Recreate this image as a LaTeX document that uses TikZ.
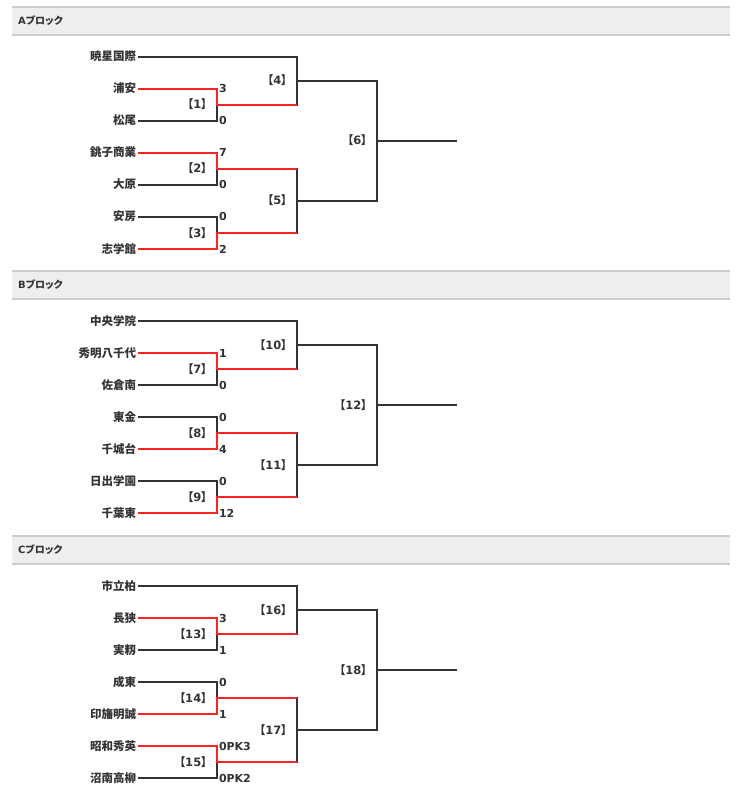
\documentclass[tikz,border=0pt]{standalone}
\usepackage{fontspec}
\setmainfont{DejaVu Sans}
\newfontfamily\cjk[RawFeature=+palt]{Noto Sans CJK JP}
\usetikzlibrary{calc}
\definecolor{txt}{HTML}{333333}
\definecolor{lose}{HTML}{333333}
\definecolor{win}{HTML}{FF2222}
\definecolor{hdrfill}{HTML}{EEEEEE}
\definecolor{hdrline}{HTML}{CCCCCC}
\tikzset{
  team/.style={anchor=east, inner sep=2pt, outer sep=0pt, text=txt,
    font=\cjk\bfseries\fontsize{11.5}{13}\selectfont, text height=9pt, text depth=1pt},
  score/.style={anchor=west, inner sep=0pt, outer sep=0pt, text=txt,
    font=\bfseries\fontsize{11}{13}\selectfont, text height=8pt, text depth=0pt},
  mlabel/.style={anchor=east, inner sep=0pt, outer sep=0pt, text=txt,
    font=\cjk\bfseries\fontsize{11.5}{13}\selectfont, text height=9pt, text depth=1pt},
  hdr/.style={anchor=west, inner sep=0pt, text=txt,
    font=\bfseries\fontsize{10}{12}\selectfont},
  loseline/.style={draw=lose, line width=2.2pt},
  winline/.style={draw=win, line width=2.8pt},
}
\newcommand\blockframe[3]{%
  \fill[hdrfill] (12,#2) rectangle (730,{#2+28});
  \draw[hdrline, line width=1.2pt] (12,#2) -- (730,#2) (12,{#2+28}) -- (730,{#2+28});
  \node[hdr] (#1hdr) at (18,{#2+14}) {#3{\cjk ブロック}};
  \foreach \i in {0,...,6} {\coordinate (#1r\i) at (138,{#2+50+32*\i});}
  \coordinate (#1sx) at (219,#2);
  \coordinate (#1m1) at (217,{#2+98});
  \coordinate (#1m2) at (217,{#2+162});
  \coordinate (#1m3) at (217,{#2+226});
  \coordinate (#1m4) at (297,{#2+74});
  \coordinate (#1m5) at (297,{#2+194});
  \coordinate (#1m6) at (377,{#2+134});
  \coordinate (#1end) at (457,{#2+134});
}
\newcommand\teams[8]{%
  \node[team] (#10) at (#1r0) {#2};
  \node[team] (#11) at (#1r1) {#3};
  \node[team] (#12) at (#1r2) {#4};
  \node[team] (#13) at (#1r3) {#5};
  \node[team] (#14) at (#1r4) {#6};
  \node[team] (#15) at (#1r5) {#7};
  \node[team] (#16) at (#1r6) {#8};
}
\newcommand\scores[7]{%
  \node[score] (#1s1) at (#1r1 -| #1sx) {#2};
  \node[score] (#1s2) at (#1r2 -| #1sx) {#3};
  \node[score] (#1s3) at (#1r3 -| #1sx) {#4};
  \node[score] (#1s4) at (#1r4 -| #1sx) {#5};
  \node[score] (#1s5) at (#1r5 -| #1sx) {#6};
  \node[score] (#1s6) at (#1r6 -| #1sx) {#7};
}
\newcommand\mlabels[7]{%
  \node[mlabel] (#1l1) at ([xshift=-10pt]#1m1) {【{\normalfont\bfseries #2}】};
  \node[mlabel] (#1l2) at ([xshift=-10pt]#1m2) {【{\normalfont\bfseries #3}】};
  \node[mlabel] (#1l3) at ([xshift=-10pt]#1m3) {【{\normalfont\bfseries #4}】};
  \node[mlabel] (#1l4) at ([xshift=-10pt]#1m4) {【{\normalfont\bfseries #5}】};
  \node[mlabel] (#1l5) at ([xshift=-10pt]#1m5) {【{\normalfont\bfseries #6}】};
  \node[mlabel] (#1l6) at ([xshift=-10pt]#1m6) {【{\normalfont\bfseries #7}】};
}
\newcommand\blocklines[1]{%
  \draw[loseline] (#10.east) -| (#1m4);
  \draw[loseline] (#11.east) -| (#1m1);
  \draw[loseline] (#12.east) -| (#1m1);
  \draw[loseline] (#13.east) -| (#1m2);
  \draw[loseline] (#14.east) -| (#1m2);
  \draw[loseline] (#15.east) -| (#1m3);
  \draw[loseline] (#16.east) -| (#1m3);
  \draw[loseline] (#1m1) -- (#1m1 -| #1m4) -- (#1m4);
  \draw[loseline] (#1m2) -- (#1m2 -| #1m5) -- (#1m5);
  \draw[loseline] (#1m3) -- (#1m3 -| #1m5) -- (#1m5);
  \draw[loseline] (#1m4) -- (#1m4 -| #1m6) -- (#1m6);
  \draw[loseline] (#1m5) -- (#1m5 -| #1m6) -- (#1m6);
  \draw[loseline] (#1m6) -- (#1end);
}
\begin{document}
\begin{tikzpicture}[x=1pt,y=-1pt]
\useasboundingbox (0,0) rectangle (739,794);
\fill[white] (0,0) rectangle (739,794);

% ---------------- A block
\blockframe{A}{7}{A}
\teams{A}{暁星国際}{浦安}{松尾}{銚子商業}{大原}{安房}{志学館}
\scores{A}{3}{0}{7}{0}{0}{2}
\mlabels{A}{1}{2}{3}{4}{5}{6}
\blocklines{A}
\draw[winline] (A1.east) -| (Am1) -- (Am1 -| Am4);
\draw[winline] (A3.east) -| (Am2) -- (Am2 -| Am5);
\draw[winline] (A6.east) -| (Am3) -- (Am3 -| Am5);

% ---------------- B block
\blockframe{B}{271}{B}
\teams{B}{中央学院}{秀明八千代}{佐倉南}{東金}{千城台}{日出学園}{千葉東}
\scores{B}{1}{0}{0}{4}{0}{12}
\mlabels{B}{7}{8}{9}{10}{11}{12}
\blocklines{B}
\draw[winline] (B1.east) -| (Bm1) -- (Bm1 -| Bm4);
\draw[winline] (B4.east) -| (Bm2) -- (Bm2 -| Bm5);
\draw[winline] (B6.east) -| (Bm3) -- (Bm3 -| Bm5);

% ---------------- C block
\blockframe{C}{536}{C}
\teams{C}{市立柏}{長狭}{実籾}{成東}{印旛明誠}{昭和秀英}{沼南高柳}
\scores{C}{3}{1}{0}{1}{0PK3}{0PK2}
\mlabels{C}{13}{14}{15}{16}{17}{18}
\blocklines{C}
\draw[winline] (C1.east) -| (Cm1) -- (Cm1 -| Cm4);
\draw[winline] (C4.east) -| (Cm2) -- (Cm2 -| Cm5);
\draw[winline] (C5.east) -| (Cm3) -- (Cm3 -| Cm5);
\end{tikzpicture}
\end{document}
